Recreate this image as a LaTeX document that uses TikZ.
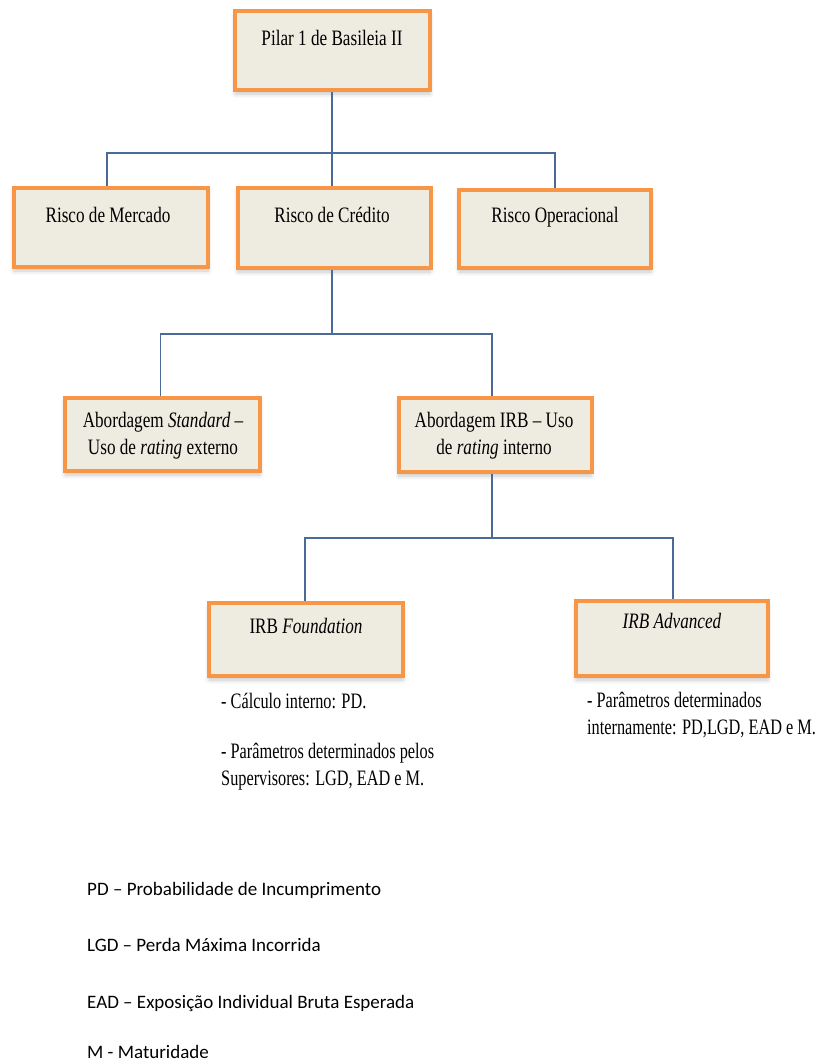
\documentclass[tikz,border=0pt]{standalone}
\usepackage{fontspec}
\setmainfont{Liberation Serif}
\newfontfamily\legendfont{Carlito}
\usetikzlibrary{shadows.blur}

\definecolor{boxfill}{HTML}{EEEBE0}
\definecolor{boxline}{HTML}{F79646}
\definecolor{linkcol}{HTML}{4A6A98}

% condensed serif text, centred or left aligned, first line on the baseline
\newcommand{\boxtxt}[1]{\scalebox{0.78}[1]{\fontsize{22}{27}\selectfont\begin{tabular}[t]{@{}c@{}}#1\end{tabular}}}
\newcommand{\notetxt}[1]{\scalebox{0.74}[1]{\fontsize{22}{27.5}\selectfont\begin{tabular}[t]{@{}l@{}}#1\end{tabular}}}

\tikzset{
  card/.style={draw=boxline, line width=4pt, fill=boxfill, inner sep=0pt,
    blur shadow={shadow xshift=0pt, shadow yshift=-4pt, shadow blur radius=4pt, shadow opacity=22}},
  link/.style={draw=linkcol, line width=1.8pt},
  lbl/.style={anchor=base, inner sep=0pt},
  note/.style={anchor=base west, inner sep=0pt},
  legend/.style={anchor=base west, inner sep=0pt, font=\legendfont\fontsize{19}{23}\selectfont},
}

\begin{document}
\begin{tikzpicture}[x=1pt, y=-1pt]
\useasboundingbox (0,0) rectangle (824,1061);

% boxes
\node[card, minimum width=195pt, minimum height=79pt] (top) at (332.5,50.5) {};
\node[card, minimum width=194pt, minimum height=79pt] (mercado) at (111,227.5) {};
\node[card, minimum width=193pt, minimum height=80pt] (credito) at (334,228) {};
\node[card, minimum width=192pt, minimum height=78pt] (oper) at (555,229) {};
\node[card, minimum width=195pt, minimum height=73pt] (standard) at (162.5,434.5) {};
\node[card, minimum width=193pt, minimum height=74pt] (irb) at (495,435) {};
\node[card, minimum width=194pt, minimum height=73pt] (found) at (306,639.5) {};
\node[card, minimum width=192pt, minimum height=75pt] (adv) at (672,638.5) {};

% drop points of the tree lines
\coordinate (busA) at (0,153);
\coordinate (busB) at (0,334);
\coordinate (busC) at (0,538);
\coordinate (dropTop) at ([xshift=-0.5pt]top.south);
\coordinate (dropMer) at ([xshift=-4pt]mercado.north);
\coordinate (dropCrN) at ([xshift=-2pt]credito.north);
\coordinate (dropCrS) at ([xshift=-2pt]credito.south);
\coordinate (dropStd) at ([xshift=-2pt]standard.north);
\coordinate (dropIrbN) at ([xshift=-3pt]irb.north);
\coordinate (dropIrbS) at ([xshift=-3pt]irb.south);
\coordinate (dropFnd) at ([xshift=-1pt]found.north);
\coordinate (dropAdv) at ([xshift=1pt]adv.north);

\draw[link] (dropTop) -- (dropTop |- busA);
\draw[link] (dropMer) |- (oper.north |- busA) -- (oper.north);
\draw[link] (dropCrN) -- (dropCrN |- busA);

\draw[link] (dropCrS) -- (dropCrS |- busB);
\draw[link] (dropStd) |- (dropIrbN |- busB) -- (dropIrbN);

\draw[link] (dropIrbS) -- (dropIrbS |- busC);
\draw[link] (dropFnd) |- (dropAdv |- busC) -- (dropAdv);

% box texts
\node[lbl] (toptxt) at (332,45) {\boxtxt{Pilar 1 de Basileia II}};
\node[lbl] (mercadotxt) at (108,222) {\boxtxt{Risco de Mercado}};
\node[lbl] (creditotxt) at (332,222) {\boxtxt{Risco de Crédito}};
\node[lbl] (opertxt) at (555,222) {\boxtxt{Risco Operacional}};
\node[lbl] (standardtxt) at (163,427) {\boxtxt{Abordagem \textit{Standard} –\\Uso de \textit{rating} externo}};
\node[lbl] (irbtxt) at (494,427) {\boxtxt{Abordagem IRB – Uso\\de \textit{rating} interno}};
\node[lbl] (foundtxt) at (306,633) {\boxtxt{IRB \textit{Foundation}}};
\node[lbl] (advtxt) at (672,628) {\boxtxt{\textit{IRB Advanced}}};

% notes under the IRB boxes
\node[note] (foundnote1) at (221,708) {\notetxt{- Cálculo interno: PD.}};
\node[note] (foundnote2) at (221,758) {\notetxt{- Parâmetros determinados pelos\\Supervisores: LGD, EAD e M.}};
\node[note] (advnote) at (587,707) {\notetxt{- Parâmetros determinados\\internamente: PD,LGD, EAD e M.}};

% legend
\node[legend] (lgPD) at (87,895) {PD – Probabilidade de Incumprimento};
\node[legend] (lgLGD) at (87,951) {LGD – Perda Máxima Incorrida};
\node[legend] (lgEAD) at (87,1008) {EAD – Exposição Individual Bruta Esperada};
\node[legend] (lgM) at (87,1058) {M - Maturidade};
\end{tikzpicture}
\end{document}
